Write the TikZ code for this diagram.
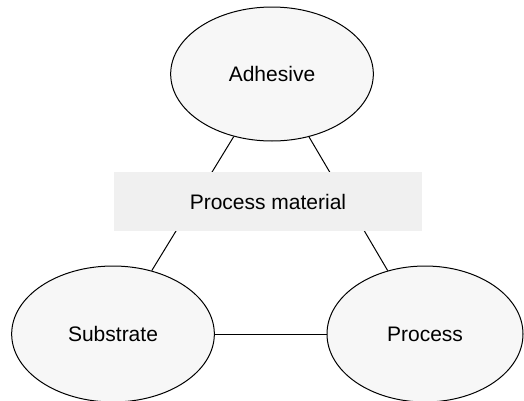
\documentclass[tikz,border=0pt]{standalone}
\usepackage{fontspec}
\setmainfont{Liberation Sans}
\usepackage{xcolor}
\usepackage{tikz}
\usetikzlibrary{shapes.geometric}
\definecolor{ellfill}{HTML}{F7F7F7}
\definecolor{boxfill}{HTML}{F0F0F0}
\tikzset{
  factor/.style={ellipse,draw,line width=0.75pt,fill=ellfill,inner sep=0pt,
    font=\fontsize{15.75}{18}\selectfont},
  pmbox/.style={rectangle,fill=boxfill,inner sep=0pt,minimum width=231pt,minimum height=44pt,
    font=\fontsize{15.75}{18}\selectfont},
  link/.style={line width=0.75pt}
}

\begin{document}
\begin{tikzpicture}[x=0.75pt,y=-0.75pt]
\useasboundingbox (0,0) rectangle (524,400);
\node[factor,minimum width=152pt,minimum height=100.5pt] (adh) at (272,74) {Adhesive};
\node[factor,minimum width=152pt,minimum height=102pt] (sub) at (113,334) {Substrate};
\node[factor,minimum width=147pt,minimum height=102pt] (proc) at (425,334) {Process};
\draw[link] (adh) -- (sub);
\draw[link] (adh) -- (proc);
\draw[link] (sub) -- (proc);
\node[pmbox] (pm) at (268,201.5) {Process material};
\end{tikzpicture}
\end{document}
